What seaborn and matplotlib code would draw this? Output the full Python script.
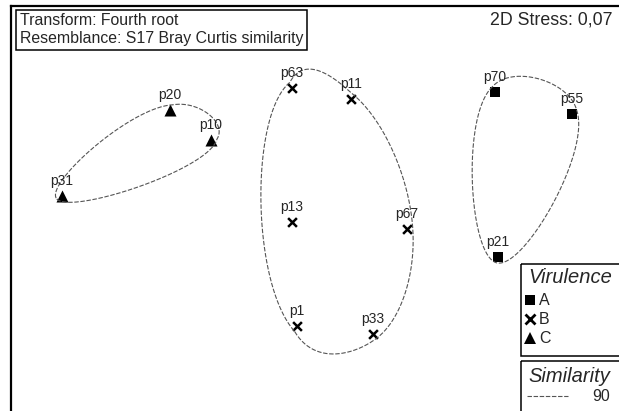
import numpy as np
import pandas as pd
import matplotlib
matplotlib.use("Agg")
import matplotlib.pyplot as plt
from matplotlib.patches import Rectangle
import seaborn as sns

# --- data: 2D nMDS coordinates of the samples ---
sample = ["p31", "p20", "p10", "p63", "p11", "p13", "p67", "p1", "p33", "p70", "p55", "p21"]
mds_x = [-2.68, -1.60, -1.19, -0.38, 0.21, -0.38, 0.77, -0.33, 0.43, 1.65, 2.42, 1.68]
mds_y = [0.34, 1.20, 0.90, 1.42, 1.31, 0.08, 0.01, -0.96, -1.04, 1.38, 1.16, -0.27]
virulence = ["C", "C", "C", "B", "B", "B", "B", "B", "B", "A", "A", "A"]
groups = ["A", "B", "C"]
markers = {"A": "s", "B": "x", "C": "^"}
sizes = {"A": 45, "B": 40, "C": 75}
similarity_level = 90
stress = "0,07"

df = pd.DataFrame({"sample": sample, "x": mds_x, "y": mds_y, "virulence": virulence})


def hull(pts, min_turn=15):
    # monotone chain convex hull, nearly straight corners dropped
    pts = sorted(map(tuple, pts))
    def cross(o, a, b):
        return (a[0] - o[0]) * (b[1] - o[1]) - (a[1] - o[1]) * (b[0] - o[0])
    lower, upper = [], []
    for p in pts:
        while len(lower) >= 2 and cross(lower[-2], lower[-1], p) <= 0:
            lower.pop()
        lower.append(p)
    for p in reversed(pts):
        while len(upper) >= 2 and cross(upper[-2], upper[-1], p) <= 0:
            upper.pop()
        upper.append(p)
    h = np.array(lower[:-1] + upper[:-1])
    keep = []
    for i in range(len(h)):
        a = h[i] - h[i - 1]
        b = h[(i + 1) % len(h)] - h[i]
        ang = np.degrees(np.arccos(np.clip(a @ b / np.linalg.norm(a) / np.linalg.norm(b), -1, 1)))
        if ang >= min_turn:
            keep.append(i)
    return h[keep]


def smooth_outline(xs, ys, pad=0.06, k=1.1, w=0.45, n=80):
    # mix of a periodic cubic spline and a catmull-rom curve through the padded hull
    h = hull(np.column_stack([xs, ys]))
    c = h.mean(axis=0)
    d = h - c
    h = h + pad * d / np.linalg.norm(d, axis=1)[:, None]
    m = len(h)
    step = np.linalg.norm(np.roll(h, -1, axis=0) - h, axis=1)
    A = np.zeros((m, m))
    rhs = np.zeros((m, 2))
    for i in range(m):
        hp, hc = step[i - 1], step[i]
        A[i, i - 1] += hp
        A[i, i] += 2 * (hp + hc)
        A[i, (i + 1) % m] += hc
        rhs[i] = 6 * ((h[(i + 1) % m] - h[i]) / hc - (h[i] - h[i - 1]) / hp)
    M = np.linalg.solve(A, rhs)
    u = np.linspace(0, 1, n, endpoint=False)[:, None]
    h00 = 2 * u**3 - 3 * u**2 + 1
    h10 = u**3 - 2 * u**2 + u
    h01 = -2 * u**3 + 3 * u**2
    h11 = u**3 - u**2
    out = []
    for i in range(m):
        j = (i + 1) % m
        hc = step[i]
        a, b = hc * (1 - u), hc * u
        spl = (M[i] * a**3 / (6 * hc) + M[j] * b**3 / (6 * hc)
               + (h[i] / hc - M[i] * hc / 6) * a + (h[j] / hc - M[j] * hc / 6) * b)
        t0 = k * (h[j] - h[i - 1]) / 2
        t1 = k * (h[(i + 2) % m] - h[i]) / 2
        cr = h00 * h[i] + h10 * t0 + h01 * h[j] + h11 * t1
        out.append(w * spl + (1 - w) * cr)
    curve = np.vstack(out + [out[0][:1]])
    return curve[:, 0], curve[:, 1]


W, H = 619, 411
fig = plt.figure(figsize=(W / 100, H / 100), dpi=100)
sns.set_style("white")
plt.rcParams["font.family"] = ["Liberation Sans", "DejaVu Sans"]

# axes frame runs past the right and bottom edge of the picture
ax = fig.add_axes([11 / W, 1 - 430 / H, (640 - 11) / W, (430 - 6) / H])
ax.set_xlim(-3.19, 3.10)
ax.set_ylim(-2.00, 2.24)
ax.set_xticks([])
ax.set_yticks([])
for s in ax.spines.values():
    s.set_linewidth(1.6)
    s.set_color("black")

for g in groups:
    sub = df[df.virulence == g]
    cx, cy = smooth_outline(sub.x.values, sub.y.values)
    ax.plot(cx, cy, color="#555555", lw=0.8, linestyle=(0, (4, 1.5)))
    kw = {"linewidth": 1.8} if markers[g] == "x" else {"linewidth": 0}
    sns.scatterplot(data=sub, x="x", y="y", marker=markers[g], s=sizes[g],
                    color="black", ax=ax, legend=False, **kw)

for _, r in df.iterrows():
    ax.annotate(r["sample"], (r.x, r.y), xytext=(0, 11), textcoords="offset points",
                ha="center", va="center", fontsize=10)
ax.set_xlabel("")
ax.set_ylabel("")

# overlay in pixel units for the boxes and the legend
ov = fig.add_axes([0, 0, 1, 1])
ov.set_xlim(0, W)
ov.set_ylim(H, 0)
ov.axis("off")

ov.add_patch(Rectangle((15.5, 10), 291, 40, fill=False, lw=1.1, ec="black"))
ov.text(20, 20.5, "Transform: Fourth root", fontsize=11.4, va="center")
ov.text(20, 38.5, "Resemblance: S17 Bray Curtis similarity", fontsize=11.4, va="center")
ov.text(613, 20, f"2D Stress: {stress}", fontsize=12.8, ha="right", va="center")

ov.add_patch(Rectangle((521, 264), 130, 92, fill=False, lw=1.1, ec="black"))
ov.text(528, 277, "Virulence", fontsize=14.5, style="italic", va="center")
leg_ms = {"A": 6.5, "B": 6.5, "C": 8}
for g, yy in zip(groups, [300, 319, 338]):
    mk = markers[g]
    ov.plot([530], [yy], marker=mk, color="black", ms=leg_ms[g],
            mew=2 if mk == "x" else 0, linestyle="none")
    ov.text(539, yy, g, fontsize=11.5, va="center")

ov.add_patch(Rectangle((521, 361), 130, 80, fill=False, lw=1.1, ec="black"))
ov.text(528, 376, "Similarity", fontsize=14.5, style="italic", va="center")
ov.plot([527, 568], [396, 396], color="#555555", lw=0.8, linestyle=(0, (4, 1.5)))
ov.text(610, 396, str(similarity_level), fontsize=11.5, ha="right", va="center")

fig.savefig("out.png", dpi=100)
